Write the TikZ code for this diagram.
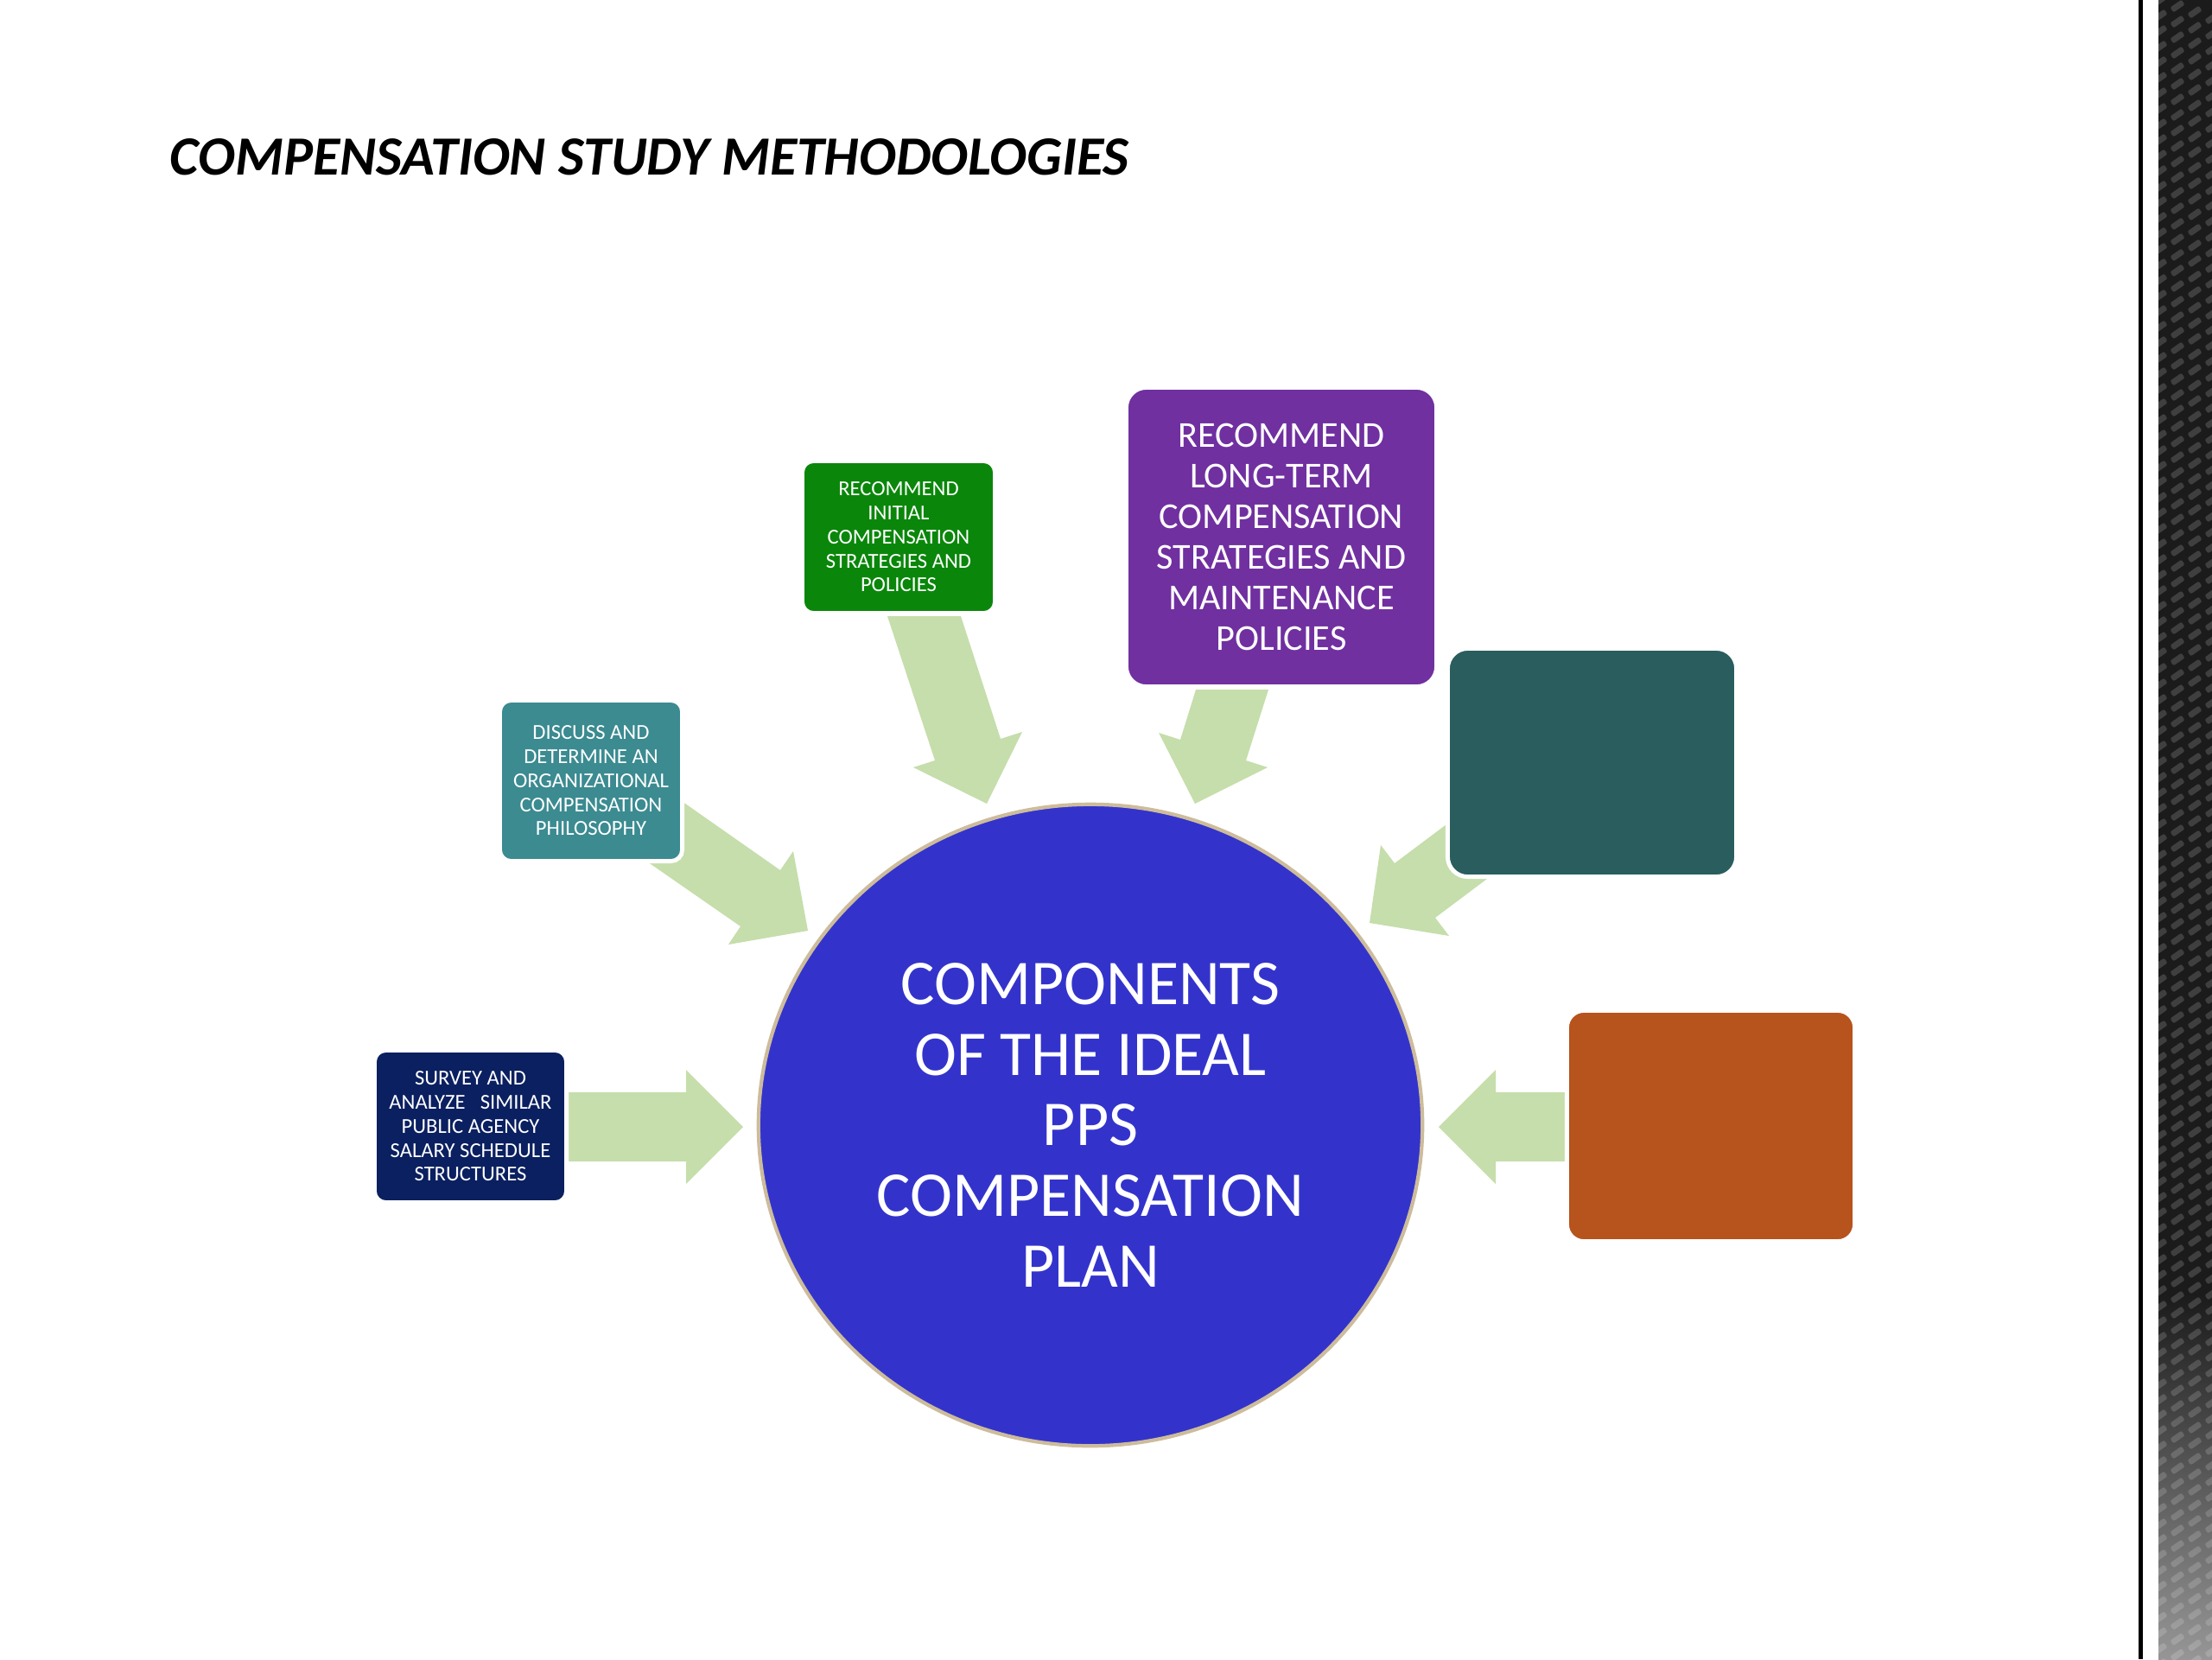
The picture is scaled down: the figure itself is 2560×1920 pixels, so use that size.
\documentclass[tikz,border=0pt]{standalone}
\usepackage{fontspec}
\setmainfont{Carlito}
\usetikzlibrary{shapes.geometric}
\definecolor{arrowgreen}{RGB}{197,222,171}
\definecolor{navybox}{RGB}{11,32,96}
\definecolor{tealbox}{RGB}{59,139,145}
\definecolor{greenbox}{RGB}{10,135,10}
\definecolor{purplebox}{RGB}{112,48,160}
\definecolor{darktealbox}{RGB}{42,93,94}
\definecolor{orangebox}{RGB}{183,83,28}
\definecolor{circleblue}{RGB}{51,51,204}
\definecolor{circlerim}{RGB}{205,188,155}
\definecolor{stripedark}{RGB}{27,27,27}
\definecolor{stripelight}{RGB}{150,150,150}
\pgfdeclareverticalshading{stripeshade}{100bp}{color(0bp)=(stripelight); color(25bp)=(stripelight); color(36bp)=(stripedark); color(100bp)=(stripedark)}
\begin{document}
\begin{tikzpicture}[x=0.01cm,y=-0.01cm,
  box/.style={draw=white, line width=1.4pt, inner sep=0pt, align=center, text=white},
  smalltext/.style={font=\fontsize{7}{7.9}\selectfont},
  bigtext/.style={font=\fontsize{12}{13.4}\selectfont},
  blockarrow/.style={fill=arrowgreen, draw=none},
  stripedash/.style={fill=white, fill opacity=0.16, rounded corners=0.6pt}]
\useasboundingbox (0,0) rectangle (2560,1920);
\fill[white] (0,0) rectangle (2560,1920);

% right-hand decorative stripe
\fill[black] (2475,0) rectangle (2480,1920);
\shade[shading=stripeshade] (2498,0) rectangle (2560,1920);
\begin{scope}
  \clip (2498,0) rectangle (2560,1920);
  \foreach \i in {0,...,107}{
    \foreach \j in {0,...,3}{
      \fill[stripedash, shift={(2500+\j*20, \i*18+\j*7)}, rotate=35] (-8,-3.5) rectangle (8,3.5);
    }
  }
\end{scope}

% title
\node[anchor=base west, inner sep=0pt, font=\fontsize{18.2}{20}\selectfont\bfseries\itshape] (title) at (196,202) {COMPENSATION STUDY METHODOLOGIES};

% block arrows
\fill[blockarrow] (650,1264) -- (794,1264) -- (794,1238) -- (860,1304) -- (794,1370) -- (794,1344) -- (650,1344) -- cycle;
\fill[blockarrow] (1822,1264) -- (1731,1264) -- (1731,1238) -- (1665,1304) -- (1731,1370) -- (1731,1344) -- (1822,1344) -- cycle;
\fill[blockarrow] (756,904) -- (903,1007) -- (918,985) -- (935,1077) -- (843,1093) -- (857,1072) -- (710,970) -- cycle;
\fill[blockarrow] (1027,713) -- (1112,713) -- (1158,855) -- (1183,847) -- (1142,930) -- (1057,888) -- (1082,880) -- cycle;
\fill[blockarrow] (1384,798) -- (1468,798) -- (1442,880) -- (1467,888) -- (1383,930) -- (1341,848) -- (1366,856) -- cycle;
\fill[blockarrow] (1714,924) -- (1614,999) -- (1598,978) -- (1585,1068) -- (1677,1083) -- (1661,1062) -- (1761,987) -- cycle;

% boxes
\node[box, smalltext, fill=navybox, rounded corners=3.7pt, minimum width=2.22cm, minimum height=1.76cm] (survey) at (544.5,1303.5)
  {SURVEY AND\\ANALYZE\hspace{0.7em}SIMILAR\\PUBLIC AGENCY\\SALARY SCHEDULE\\STRUCTURES};
\node[box, smalltext, fill=tealbox, rounded corners=3.7pt, minimum width=2.11cm, minimum height=1.86cm] (discuss) at (684,903.5)
  {DISCUSS AND\\DETERMINE AN\\ORGANIZATIONAL\\COMPENSATION\\PHILOSOPHY};
\node[box, smalltext, fill=greenbox, rounded corners=3.7pt, minimum width=2.23cm, minimum height=1.76cm] (initial) at (1040,621.5)
  {RECOMMEND\\INITIAL\\COMPENSATION\\STRATEGIES AND\\POLICIES};
\node[box, bigtext, fill=purplebox, rounded corners=6.6pt, minimum width=3.59cm, minimum height=3.46cm] (longterm) at (1483,621.5)
  {RECOMMEND\\LONG-TERM\\COMPENSATION\\STRATEGIES AND\\MAINTENANCE\\POLICIES};
\node[box, fill=darktealbox, rounded corners=6.6pt, minimum width=3.34cm, minimum height=2.64cm] (tealempty) at (1842.5,882.5) {};
\node[box, fill=orangebox, rounded corners=5.6pt, minimum width=3.33cm, minimum height=2.67cm] (orangeempty) at (1980,1303) {};

% central circle
\node[ellipse, fill=circleblue, draw=circlerim, line width=1.2pt, minimum width=7.68cm, minimum height=7.42cm,
  inner sep=0pt, align=center, text=white, font=\fontsize{21}{23.2}\selectfont] (plan) at (1262,1302)
  {COMPONENTS\\OF THE IDEAL\\PPS\\COMPENSATION\\PLAN};
\end{tikzpicture}
\end{document}
